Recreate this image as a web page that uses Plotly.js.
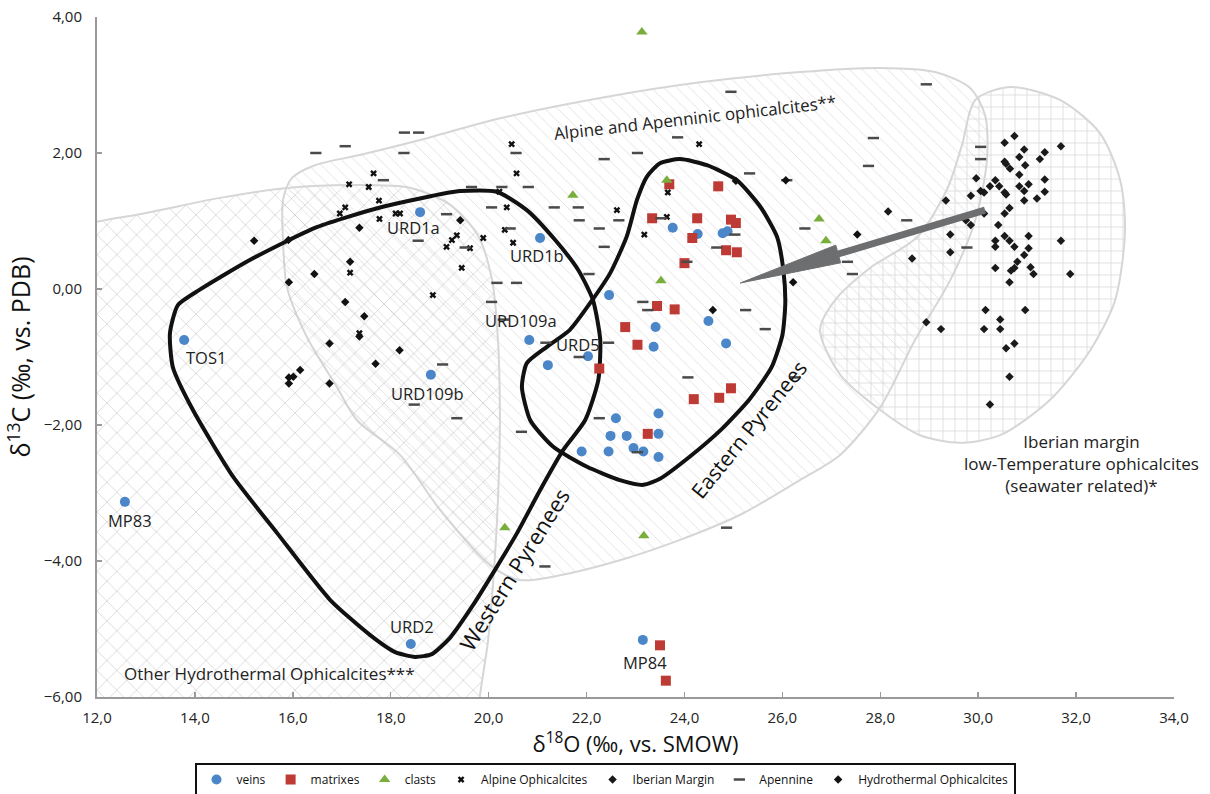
<!DOCTYPE html>
<html><head><meta charset="utf-8">
<script src="https://cdn.plot.ly/plotly-3.0.1.min.js"></script>
<style>html,body{margin:0;padding:0;background:#fff}#chart{width:1210px;height:794px}</style>
</head><body><div id="chart"></div>
<script>
// ---- data (δ18O ‰ SMOW, δ13C ‰ PDB) ----
const veinsX = [18.60,21.05,20.83,22.03,13.78,18.82,12.57,18.41,23.15,21.21,23.76,24.27,24.78,24.88,22.46,24.49,23.41,23.37,24.85,22.60,23.47,22.49,22.82,23.47,21.90,22.45,22.96,23.16,23.47];
const veinsY = [1.13,0.75,-0.75,-0.99,-0.75,-1.26,-3.13,-5.22,-5.16,-1.12,0.90,0.81,0.82,0.85,-0.09,-0.47,-0.56,-0.85,-0.80,-1.90,-1.83,-2.16,-2.16,-2.13,-2.39,-2.39,-2.34,-2.39,-2.47];
const matrixX = [23.69,24.69,23.34,24.26,24.95,25.05,24.16,24.85,25.07,24.00,23.44,23.80,22.79,23.04,22.26,24.95,24.19,24.71,23.25,23.50,23.62];
const matrixY = [1.54,1.51,1.04,1.04,1.02,0.97,0.75,0.57,0.54,0.38,-0.25,-0.30,-0.56,-0.82,-1.17,-1.46,-1.62,-1.60,-2.13,-5.24,-5.76];
const clastX = [23.13,21.72,23.64,23.52,26.75,26.89,20.33,23.17];
const clastY = [3.78,1.38,1.60,0.12,1.03,0.71,-3.51,-3.63];
const alpineX = [17.65,17.15,17.55,17.76,17.07,16.96,18.10,18.19,17.77,19.35,19.25,19.14,19.62,19.89,19.45,18.86,17.17,17.36,20.47,20.57,20.22,20.37,20.33,20.50,24.30,22.62,23.66,23.64,23.18];
const alpineY = [1.70,1.54,1.50,1.30,1.20,1.11,1.11,1.11,1.03,0.79,0.72,0.62,0.60,0.75,0.31,-0.09,0.24,-0.65,2.13,1.70,1.43,1.20,0.87,0.68,2.13,1.16,1.42,1.06,0.80];
const iberianX = [30.74,30.54,31.69,30.94,31.36,30.84,31.26,30.54,30.57,30.96,30.65,30.84,29.96,30.35,31.36,30.24,30.43,30.84,31.03,30.05,30.12,30.54,30.57,30.94,31.36,29.85,31.20,30.94,29.34,28.16,30.64,30.54,30.12,29.75,29.85,30.41,29.43,30.54,31.03,30.35,30.64,31.69,30.35,30.74,31.03,30.94,29.43,28.65,30.80,30.35,30.67,30.74,31.07,31.13,31.88,30.64,30.15,30.96,30.45,28.94,29.24,30.12,30.45,30.74,30.57,30.64,30.24];
const iberianY = [2.25,2.15,2.10,2.05,2.01,1.94,1.91,1.87,1.84,1.82,1.77,1.68,1.63,1.60,1.61,1.51,1.51,1.51,1.54,1.44,1.42,1.42,1.39,1.44,1.43,1.37,1.33,1.30,1.30,1.14,1.19,1.11,1.11,1.01,0.94,0.94,0.80,0.78,0.78,0.71,0.71,0.71,0.62,0.62,0.60,0.50,0.54,0.45,0.40,0.31,0.27,0.31,0.32,0.22,0.22,0.10,-0.31,-0.31,-0.45,-0.49,-0.59,-0.59,-0.59,-0.80,-0.87,-1.29,-1.70];
const apennineX = [18.28,18.57,17.07,16.47,18.27,17.85,20.56,19.65,20.27,20.81,20.06,19.14,20.44,18.56,19.52,20.17,20.57,20.06,19.06,18.48,19.35,20.30,24.95,23.86,23.04,22.36,25.33,26.09,21.34,21.83,21.85,22.66,22.26,22.36,22.05,24.66,25.03,23.52,24.05,26.46,23.15,23.25,25.25,25.65,22.45,21.17,21.85,24.07,26.26,22.26,23.04,20.67,28.94,27.86,27.76,28.54,30.05,30.05,29.77,27.33,27.43,21.15,24.86];
const apennineY = [2.30,2.30,2.10,2.00,2.00,1.60,2.00,1.50,1.50,1.50,1.20,1.10,0.89,0.71,0.61,0.09,0.09,-0.19,-1.11,-1.70,-1.90,-0.45,2.90,2.23,2.00,1.91,1.70,1.60,1.20,1.20,1.01,1.01,0.89,0.62,0.22,0.61,0.80,1.04,0.40,0.89,-0.19,-0.31,-0.31,-0.59,-0.79,-0.79,-1.00,-1.30,-1.30,-1.90,-2.40,-2.10,3.01,2.22,1.81,1.01,2.09,1.91,0.61,0.40,0.22,-4.08,-3.51];
const hydroX = [15.21,15.91,17.36,19.42,17.17,16.44,15.92,17.07,17.46,17.36,16.75,18.18,17.69,16.15,16.01,15.92,15.92,16.75,24.58,26.07,25.05,26.22,27.53];
const hydroY = [0.71,0.72,0.90,1.01,0.40,0.22,0.10,-0.19,-0.40,-0.70,-0.80,-0.90,-1.10,-1.19,-1.29,-1.30,-1.39,-1.39,-0.31,1.60,1.59,0.10,0.80];

// sample labels
const sampleNames = ["URD1a","URD1b","URD109a","URD5","TOS1","URD109b","MP83","URD2","MP84"];
const sampleLabelX = [18.46,20.99,20.66,21.83,14.23,18.76,12.67,18.43,23.19];
const sampleLabelY = [0.90,0.49,-0.47,-0.81,-1.01,-1.54,-3.41,-4.97,-5.49];

// field outlines
const alpineFieldX = [15.80,15.80,15.98,16.45,17.37,18.60,20.23,22.28,24.32,26.36,27.99,29.12,29.83,30.14,30.18,29.94,29.43,28.71,28.00,27.18,26.36,25.14,23.91,22.68,21.46,20.64,20.03,19.01,18.19,17.31,16.90,16.29,15.88];
const alpineFieldY = [0.72,1.31,1.63,1.82,1.97,2.19,2.51,2.81,3.04,3.19,3.25,3.19,2.96,2.56,1.90,1.01,0.13,-0.75,-1.74,-2.44,-2.81,-3.32,-3.69,-3.99,-4.21,-4.28,-4.06,-3.25,-2.44,-1.93,-1.44,-0.71,0.03];
const hydroFieldX = [11.0,12.0,13.08,14.51,15.94,17.17,18.39,19.21,19.78,20.07,20.19,20.23,20.19,20.11,19.99,19.82,19.7,11.0];
const hydroFieldY = [0.85,0.99,1.13,1.34,1.49,1.53,1.49,1.24,0.79,0.13,-0.75,-1.93,-3.10,-4.13,-5.16,-6.0,-7.0,-7.0];
const iberianFieldX = [30.65,31.67,32.49,32.90,33.00,32.80,32.29,31.47,30.45,29.63,28.81,28.00,27.18,26.77,27.08,27.79,28.75,29.36,29.67,29.94];
const iberianFieldY = [2.97,2.78,2.29,1.60,0.87,-0.16,-0.90,-1.63,-2.15,-2.26,-2.15,-1.78,-1.26,-0.60,-0.16,0.31,0.76,1.46,2.12,2.78];
const westX = [18.50,18.09,17.58,16.76,15.68,14.78,13.96,13.55,13.49,13.65,14.10,15.13,16.49,17.84,19.42,20.17,20.78,21.36,21.83,22.13,22.28,22.24,21.97,21.52,21.05,20.58,20.13,19.68,19.21,18.84,18.50];
const westY = [-5.41,-5.34,-5.09,-4.57,-3.59,-2.76,-1.78,-1.15,-0.65,-0.24,-0.01,0.43,0.91,1.21,1.44,1.43,1.16,0.72,0.28,-0.16,-0.75,-1.34,-1.93,-2.37,-2.96,-3.59,-4.13,-4.65,-5.13,-5.37,-5.41];
const eastX = [23.50,23.91,24.46,25.07,25.55,25.89,26.02,26.06,26.00,25.78,25.33,24.76,24.10,23.50,23.16,22.68,22.00,21.32,20.85,20.68,20.78,21.19,21.66,22.07,22.48,22.82,23.03,23.23,23.50];
const eastY = [1.85,1.91,1.82,1.60,1.21,0.77,0.28,-0.21,-0.68,-1.15,-1.62,-2.06,-2.47,-2.79,-2.88,-2.81,-2.61,-2.32,-1.93,-1.44,-1.09,-0.85,-0.60,-0.21,0.23,0.77,1.31,1.65,1.85];

// trend arrow (tail → head base → tip)
const arrowTail = [30.14, 1.16];
const arrowBase = [27.14, 0.515];
const arrowBaseL = [27.19, 0.385];
const arrowBaseR = [27.09, 0.645];
const arrowTip = [25.14, 0.088];

const FONT = "Open Sans, Noto Sans, sans-serif";
const fieldLine = {color:'#d6d6d6', width:2, shape:'spline', smoothing:0.8};

const traces = [
  {x:alpineFieldX.concat([alpineFieldX[0]]), y:alpineFieldY.concat([alpineFieldY[0]]), mode:'lines', fill:'toself', line:fieldLine,
   fillcolor:'rgba(255,255,255,0)', fillpattern:{shape:'\\', fgcolor:'#e0e0e0', bgcolor:'rgba(255,255,255,0)', size:9, solidity:0.1},
   showlegend:false, hoverinfo:'skip'},
  {x:hydroFieldX, y:hydroFieldY, mode:'lines', fill:'toself', line:fieldLine,
   fillcolor:'rgba(255,255,255,0)', fillpattern:{shape:'x', fgcolor:'#c4c4c4', bgcolor:'rgba(255,255,255,0)', size:14, solidity:0.08},
   showlegend:false, hoverinfo:'skip'},
  {x:iberianFieldX.concat([iberianFieldX[0]]), y:iberianFieldY.concat([iberianFieldY[0]]), mode:'lines', fill:'toself', line:fieldLine,
   fillcolor:'rgba(255,255,255,0)', fillpattern:{shape:'+', fgcolor:'#cdcdcd', bgcolor:'rgba(255,255,255,0)', size:12, solidity:0.1},
   showlegend:false, hoverinfo:'skip'},
  {x:westX, y:westY, mode:'lines', line:{color:'#111', width:4, shape:'spline', smoothing:0.6}, showlegend:false, hoverinfo:'skip'},
  {x:eastX, y:eastY, mode:'lines', line:{color:'#111', width:4, shape:'spline', smoothing:0.6}, showlegend:false, hoverinfo:'skip'},
  {name:'veins', x:veinsX, y:veinsY, mode:'markers', marker:{symbol:'circle', size:10, color:'#4a86c8'}},
  {name:'matrixes', x:matrixX, y:matrixY, mode:'markers', marker:{symbol:'square', size:10, color:'#be3a34'}},
  {name:'clasts', x:clastX, y:clastY, mode:'markers', marker:{symbol:'triangle-up', size:10, color:'#7aae3c'}},
  {name:'Alpine Ophicalcites', x:alpineX, y:alpineY, mode:'markers', marker:{symbol:'x', size:6, color:'#111'}},
  {name:'Iberian Margin', x:iberianX, y:iberianY, mode:'markers', marker:{symbol:'diamond', size:6.5, color:'#1a1a1a'}},
  {name:'Apennine', x:apennineX, y:apennineY, mode:'markers', marker:{symbol:'line-ew-open', size:8, color:'#4a4a4a', line:{color:'#4a4a4a', width:2.5}}},
  {name:'Hydrothermal Ophicalcites', x:hydroX, y:hydroY, mode:'markers', marker:{symbol:'diamond', size:6.5, color:'#111'}}
];

const annotations = sampleNames.map((t,i)=>({x:sampleLabelX[i], y:sampleLabelY[i], text:t, showarrow:false,
  font:{family:FONT, size:16.5, color:'#222'}}));
annotations.push(
  {x:24.22, y:2.52, text:'Alpine and Apenninic ophicalcites**', showarrow:false, textangle:-6.5, font:{family:FONT, size:17, color:'#222'}},
  {x:15.53, y:-5.66, text:'Other Hydrothermal Ophicalcites***', showarrow:false, font:{family:FONT, size:17, color:'#222'}},
  {x:32.12, y:-2.56, text:'Iberian margin<br>low-Temperature ophicalcites<br>(seawater related)*', showarrow:false, align:'center', font:{family:FONT, size:17, color:'#222'}},
  {x:20.52, y:-4.12, text:'Western Pyrenees', showarrow:false, textangle:-58, font:{family:FONT, size:22, color:'#111'}},
  {x:25.32, y:-2.06, text:'Eastern Pyrenees', showarrow:false, textangle:-51, font:{family:FONT, size:21, color:'#111'}}
);

const arrowColor = '#6d6e70';
const shapes = [
  {type:'line', xref:'x', yref:'y', x0:arrowTail[0], y0:arrowTail[1], x1:arrowBase[0], y1:arrowBase[1], line:{color:arrowColor, width:7}},
  {type:'path', xref:'x', yref:'y', path:`M ${arrowTip[0]},${arrowTip[1]} L ${arrowBaseL[0]},${arrowBaseL[1]} L ${arrowBaseR[0]},${arrowBaseR[1]} Z`,
   fillcolor:arrowColor, line:{color:arrowColor, width:1}}
];

const layout = {
  width:1210, height:794,
  margin:{l:97, r:36, t:17, b:97},
  paper_bgcolor:'#fff', plot_bgcolor:'#fff',
  separators:',.',
  font:{family:FONT, color:'#222'},
  xaxis:{range:[12,34], dtick:2, tick0:12, tickformat:'.1f', showgrid:false, zeroline:false,
    showline:true, linecolor:'#9a9a9a', linewidth:2, ticks:'inside', ticklen:5, tickcolor:'#9a9a9a', tickwidth:1.5,
    tickfont:{size:15, color:'#222'}, ticklabelstandoff:6,
    title:{text:'δ<sup>18</sup>O (‰, vs. SMOW)', font:{size:22, color:'#111'}, standoff:8}},
  yaxis:{range:[-6,4], dtick:2, tick0:-6, tickformat:'.2f', showgrid:false, zeroline:false,
    showline:true, linecolor:'#9a9a9a', linewidth:2, ticks:'inside', ticklen:5, tickcolor:'#9a9a9a', tickwidth:1.5,
    tickfont:{size:15, color:'#222'}, ticklabelstandoff:10,
    title:{text:'δ<sup>13</sup>C (‰, vs. PDB)', font:{size:25, color:'#111'}, standoff:6}},
  legend:{orientation:'h', xref:'container', x:0.5, xanchor:'center', yref:'container', y:0.039, yanchor:'top',
    bordercolor:'#111', borderwidth:2, bgcolor:'#fff', font:{size:12, color:'#111'},
    itemwidth:30, tracegroupgap:0},
  annotations:annotations,
  shapes:shapes,
  showlegend:true
};

Plotly.newPlot('chart', traces, layout, {displayModeBar:false, staticPlot:true});
</script>
</body></html>
